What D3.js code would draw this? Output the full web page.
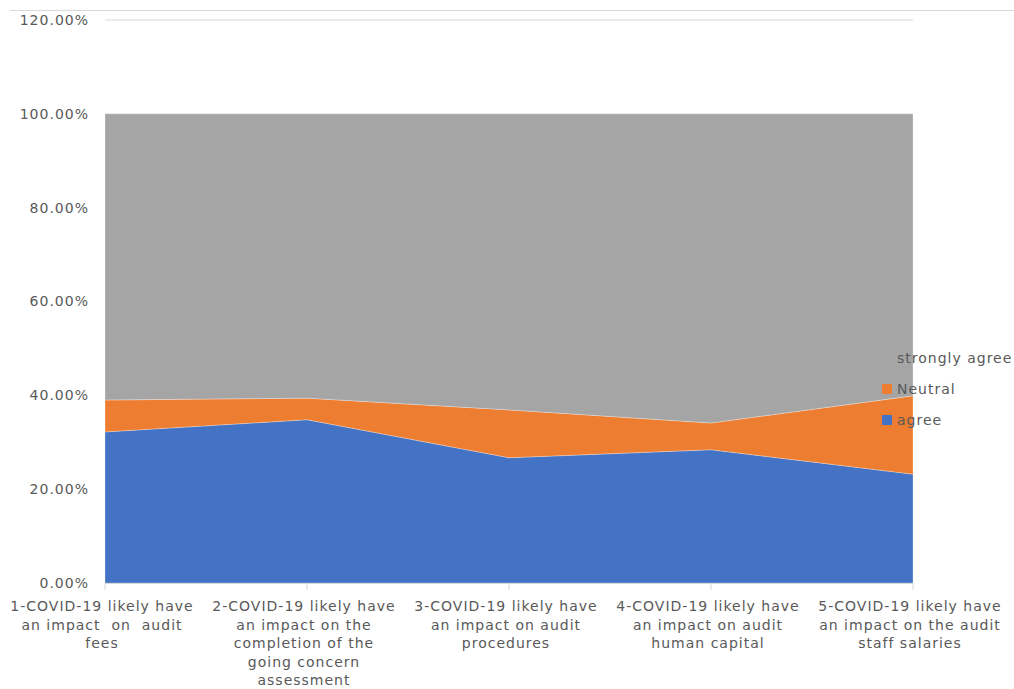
<!DOCTYPE html>
<html>
<head>
<meta charset="utf-8">
<script src="https://cdn.jsdelivr.net/npm/d3@7"></script>
<style>
  body { margin: 0; background: #fff; }
  svg text { font-family: "DejaVu Sans", sans-serif; fill: #595959; font-size: 14px; letter-spacing: 1px; }
</style>
</head>
<body>
<div id="chart"></div>
<script>
// data (share of respondents)
const categories = ["Q1", "Q2", "Q3", "Q4", "Q5"];
const catLabels = [
  ["1-COVID-19 likely have", "an impact  on  audit", "fees"],
  ["2-COVID-19 likely have", "an impact on the", "completion of the", "going concern", "assessment"],
  ["3-COVID-19 likely have", "an impact on audit", "procedures"],
  ["4-COVID-19 likely have", "an impact on audit", "human capital"],
  ["5-COVID-19 likely have", "an impact on the audit", "staff salaries"]
];
const agree = [0.322, 0.348, 0.267, 0.284, 0.232];
const neutral = [0.068, 0.046, 0.102, 0.057, 0.167];
const stronglyAgree = [0.610, 0.606, 0.631, 0.659, 0.601];
const seriesNames = ["agree", "Neutral", "strongly agree"];
const seriesColors = ["#4472C4", "#ED7D31", "#A5A5A5"];
const yTicks = [0, 0.2, 0.4, 0.6, 0.8, 1.0, 1.2];

var rows = categories.map((c, i) => ({
  cat: c, "agree": agree[i], "Neutral": neutral[i], "strongly agree": stronglyAgree[i]
}));

const width = 1014, height = 689;
const svg = d3.select("#chart").append("svg")
  .attr("width", width).attr("height", height);

const x = d3.scalePoint().domain(categories).range([105, 913]);
const y = d3.scaleLinear().domain([0, 1.2]).range([583, 20]);

// outer chart border (top edge only visible)
svg.append("line")
  .attr("x1", 10).attr("x2", width).attr("y1", 10.5).attr("y2", 10.5)
  .attr("stroke", "#d9d9d9");

// gridline at the top tick
svg.append("line")
  .attr("x1", 105).attr("x2", 913).attr("y1", y(1.2)).attr("y2", y(1.2))
  .attr("stroke", "#d9d9d9").attr("stroke-width", 1);

const stack = d3.stack().keys(seriesNames);
const layers = stack(rows);

const area = d3.area()
  .x(d => x(d.data.cat))
  .y0(d => y(d[0]))
  .y1(d => y(d[1]));

svg.selectAll("path.layer")
  .data(layers)
  .enter()
  .append("path")
  .attr("class", "layer")
  .attr("d", area)
  .attr("fill", (d, i) => seriesColors[i])
  .attr("stroke", "#ffffff")
  .attr("stroke-opacity", 0.35)
  .attr("stroke-width", 0.8);

// y axis labels
svg.selectAll("text.ytick")
  .data(yTicks)
  .enter()
  .append("text")
  .attr("class", "ytick")
  .attr("x", 89)
  .attr("y", d => y(d))
  .attr("dy", "0.35em")
  .attr("text-anchor", "end")
  .text(d => d3.format(".2%")(d));

// x axis line + ticks
svg.append("line")
  .attr("x1", 105).attr("x2", 913).attr("y1", 583.5).attr("y2", 583.5)
  .attr("stroke", "#d9d9d9");
svg.selectAll("line.xtick")
  .data(categories)
  .enter()
  .append("line")
  .attr("class", "xtick")
  .attr("x1", d => x(d)).attr("x2", d => x(d))
  .attr("y1", 583).attr("y2", 590)
  .attr("stroke", "#d9d9d9");

// x category labels
const xl = svg.selectAll("text.xlab")
  .data(categories)
  .enter()
  .append("text")
  .attr("class", "xlab")
  .attr("text-anchor", "middle");
xl.each(function(d, i) {
  const t = d3.select(this);
  catLabels[i].forEach((line, j) => {
    t.append("tspan")
      .attr("x", x(d) - 3)
      .attr("y", 611 + j * 18.5)
      .attr("xml:space", "preserve")
      .text(line);
  });
});

// legend
const legend = svg.append("g");
const legendItems = [2, 1, 0];
legendItems.forEach((s, k) => {
  const ly = 358 + k * 31;
  legend.append("rect")
    .attr("x", 882).attr("y", ly - 5).attr("width", 10).attr("height", 10)
    .attr("fill", seriesColors[s]);
  legend.append("text")
    .attr("x", 897).attr("y", ly)
    .attr("dy", "0.35em")
    .text(seriesNames[s]);
});
</script>
</body>
</html>
